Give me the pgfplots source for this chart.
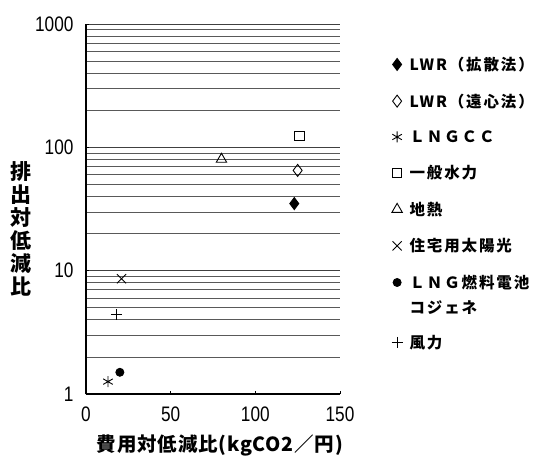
\documentclass[border=0pt]{standalone}
\usepackage{fontspec}
\setmainfont{Noto Sans CJK JP}
\newfontfamily\ticksf[FakeStretch=0.82]{Liberation Sans}
\newfontfamily\legf[LetterSpace=12]{Noto Sans CJK JP}
\newfontfamily\xlabf[LetterSpace=4]{Noto Sans CJK JP}
\usepackage{pgfplots}
\pgfplotsset{compat=1.18}
\usetikzlibrary{calc}
\begin{document}
\begin{tikzpicture}
\begin{axis}[
  name=ax,
  scale only axis,
  width=254bp, height=370bp,
  xmin=0, xmax=150, ymin=1, ymax=1000,
  ymode=log,
  axis x line*=bottom, axis y line*=left,
  axis line style={line width=1.4bp,-},
  xtick={0,50,100,150},
  xticklabels={0,50,100,150},
  ytick={1,10,100,1000},
  yticklabels={1,10,100,1000},
  /pgf/number format/assume math mode=true,
  ticklabel style={font=\ticksf\fontsize{21bp}{21bp}\selectfont},
  xticklabel style={yshift=-12bp, inner sep=1bp},
  yticklabel style={xshift=-9bp},
  major tick length=3bp, minor tick length=0pt,
  tick style={black, line width=0.8bp},
  tick align=inside,
  ymajorgrids, yminorgrids,
  major grid style={black!75, line width=0.8bp},
  minor grid style={black!65, line width=0.6bp},
  legend style={draw=none, fill=none, at={(1.19,0.922)}, anchor=north west,
    font=\legf\bfseries\fontsize{15.5bp}{17bp}\selectfont, row sep=17.8bp, column sep=5bp,
    cells={align=left, anchor=west}},
  legend cell align=left,
  legend image code/.code={\draw[mark repeat=2,mark phase=2] plot coordinates {(0cm,0cm) (0.2cm,0cm) (0.4cm,0cm)};},
]
\addplot[only marks, black, line width=0.9bp, mark=diamond*, mark size=6bp, mark options={fill=black}] coordinates {(123,35)};
\addlegendentry{LWR（拡散法）}
\addplot[only marks, black, line width=0.9bp, mark=diamond, mark size=6bp, mark options={fill=white}] coordinates {(125,65)};
\addlegendentry{LWR（遠心法）}
\addplot[only marks, black, line width=0.9bp, mark=asterisk, mark size=5.5bp] coordinates {(13,1.26)};
\addlegendentry{ＬＮＧＣＣ}
\addplot[only marks, black, line width=0.9bp, mark=square, mark size=4.8bp, mark options={fill=white}] coordinates {(126,124)};
\addlegendentry{一般水力}
\addplot[only marks, black, line width=0.9bp, mark=triangle, mark size=6bp, mark options={fill=white}] coordinates {(80,80)};
\addlegendentry{地熱}
\addplot[only marks, black, line width=0.9bp, mark=x, mark size=6.5bp] coordinates {(21,8.6)};
\addlegendentry{住宅用太陽光}
\addplot[only marks, black, line width=0.9bp, mark=*, mark size=4bp, mark options={fill=black}] coordinates {(20,1.5)};
\addlegendentry{\raisebox{0pt}[\height][0pt]{\vtop{\baselineskip=25bp\hbox{ＬＮＧ燃料電池}\hbox{コジェネ}}}}
\addlegendimage{empty legend}
\addlegendentry{}
\addplot[only marks, black, line width=0.9bp, mark=+, mark size=5.5bp] coordinates {(18,4.4)};
\addlegendentry{風力}
\end{axis}
\node[font=\xlabf\bfseries\fontsize{19.5bp}{22bp}\selectfont, inner sep=0pt] at ($(ax.south west)+(134bp,-51bp)$) {費用対低減比(kgCO2／円)};
\node[font=\bfseries\fontsize{21bp}{23bp}\selectfont, align=center] at ($(ax.south west)+(-65bp,165bp)$) {排\\出\\対\\低\\減\\比};
\pgfresetboundingbox
\path ($(ax.south west)+(-86bp,-68bp)$) rectangle ($(ax.south west)+(463bp,394bp)$);
\end{tikzpicture}
\end{document}
